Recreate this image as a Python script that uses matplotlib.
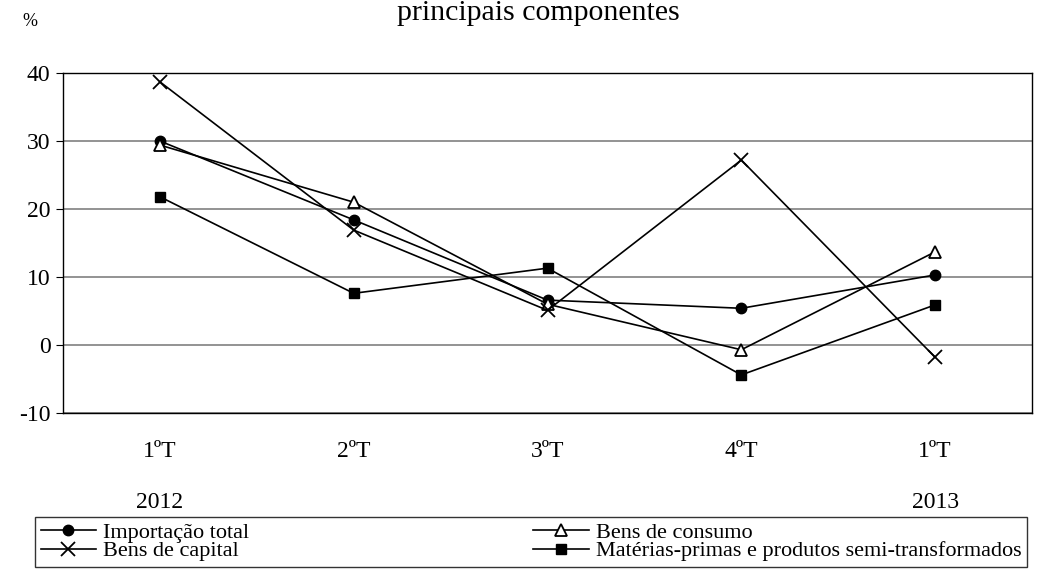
import matplotlib.pyplot as plt
import matplotlib.transforms as mtransforms

plt.rcParams['font.family'] = ['Liberation Serif', 'DejaVu Serif']
plt.rcParams['axes.unicode_minus'] = False

quarters = ['1ºT', '2ºT', '3ºT', '4ºT', '1ºT']
years = ['2012', '', '', '', '2013']

importacao_total = [30.0, 18.4, 6.6, 5.4, 10.3]
bens_consumo = [29.4, 21.0, 6.0, -0.7, 13.7]
bens_capital = [38.7, 16.9, 5.1, 27.2, -1.8]
materias_primas = [21.8, 7.6, 11.3, -4.4, 5.9]

labels = ['Importação total', 'Bens de consumo', 'Bens de capital',
          'Matérias-primas e produtos semi-transformados']

fig = plt.figure(figsize=(10.53, 5.72), dpi=100)
ax = fig.add_axes([63 / 1053, 1 - 413 / 572, (1032 - 63) / 1053, (413 - 73) / 572])

x = range(len(quarters))
styles = [
    (importacao_total, dict(marker='o', markersize=7.5, markerfacecolor='black')),
    (bens_consumo, dict(marker='^', markersize=8.5, markerfacecolor='white', markeredgewidth=1.3)),
    (bens_capital, dict(marker='x', markersize=10, markeredgewidth=1.3)),
    (materias_primas, dict(marker='s', markersize=7.5, markerfacecolor='black')),
]
for (vals, st), lab in zip(styles, labels):
    ax.plot(x, vals, color='black', linewidth=1.2, markeredgecolor='black',
            label=lab, zorder=3, **st)

ax.set_xlim(-0.5, len(quarters) - 0.5)
ax.set_ylim(-10, 40)
ax.set_yticks([-10, 0, 10, 20, 30, 40])
ax.yaxis.grid(True, color='#808080', linewidth=1.2)
ax.set_axisbelow(True)
ax.set_xticks(list(x))
ax.set_xticklabels(quarters)
ax.tick_params(axis='x', length=0, pad=20, labelsize=17)
ax.tick_params(axis='y', direction='out', length=5, labelsize=17, pad=4)
for s in ax.spines.values():
    s.set_color('black')
    s.set_linewidth(1)

# year row under the quarter labels
trans = mtransforms.blended_transform_factory(ax.transData, fig.transFigure)
for i, yr in enumerate(years):
    if yr:
        ax.text(i, 1 - 502 / 572, yr, transform=trans, fontsize=17,
                ha='center', va='center')

fig.text(30 / 1053, 1 - 22 / 572, '%', fontsize=13, ha='center', va='center')
fig.text(538 / 1053, 1 - 20 / 572, 'principais componentes', fontsize=21.5,
         ha='center', va='baseline')

handles, labs = ax.get_legend_handles_labels()
order = [0, 2, 1, 3]
leg = fig.legend([handles[i] for i in order], [labs[i] for i in order],
                 loc='upper left', bbox_to_anchor=(35 / 1053, 1 - 517 / 572),
                 ncol=2, fontsize=16, frameon=True, fancybox=False,
                 edgecolor='black', borderpad=0.25, labelspacing=-0.1,
                 handlelength=2.5, handletextpad=0.3, columnspacing=12.8,
                 borderaxespad=0)
leg.get_frame().set_linewidth(1)

fig.savefig('out.png', dpi=100)
